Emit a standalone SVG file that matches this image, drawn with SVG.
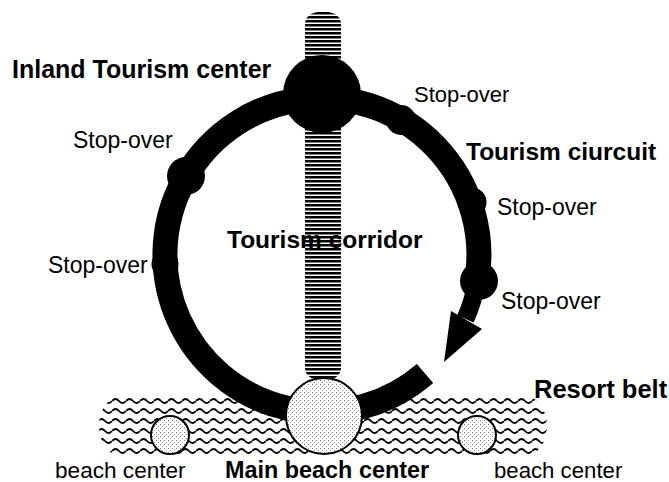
<svg xmlns="http://www.w3.org/2000/svg" width="669" height="482" viewBox="0 0 669 482">
<defs>
<pattern id="waves" patternUnits="userSpaceOnUse" x="0" y="396" width="14" height="10">
<path d="M0,5 Q3.5,1 7,5 T14,5" fill="none" stroke="#000" stroke-width="1.8"/>
</pattern>
<pattern id="stripes" patternUnits="userSpaceOnUse" x="0" y="12" width="10" height="4">
<rect x="0" y="0" width="10" height="2.5" fill="#000"/>
</pattern>
<pattern id="stipple" patternUnits="userSpaceOnUse" width="4" height="4">
<rect width="4" height="4" fill="#fff"/>
<rect x="0" y="0" width="1" height="1" fill="#777"/>
<rect x="2" y="2" width="1" height="1" fill="#999"/>
</pattern>
<style>
.lbl{font-family:"Liberation Sans",Arial,sans-serif;fill:#000}
.b{font-weight:bold}
.ring{fill:none;stroke:#000;stroke-linecap:butt}
.stop{fill:#000}
.beach{fill:url(#stipple);stroke:#000;stroke-width:2}
</style>
</defs>
<rect width="669" height="482" fill="#fff"/>

<g id="resort-belt">
<rect x="99" y="396" width="448" height="60" rx="22" ry="30" fill="url(#waves)"/>
<text class="lbl b" x="534" y="398" font-size="25.5">Resort belt</text>
</g>

<g id="tourism-corridor">
<text class="lbl b" x="227" y="248" font-size="24.5">Tourism corridor</text>
<rect x="305" y="12" width="36" height="368" rx="14" ry="12" fill="url(#stripes)"/>
</g>

<g id="connectors">
<path class="ring" stroke-width="25" d="M425,373.5 A157,157 0 1 1 476.8,280.9"/>
<path class="ring" stroke-width="18" d="M476.8,280.9 A157,157 0 0 1 465.4,318.9"/>
<polygon points="451,311 482,329 444,362" fill="#000"/>
<text class="lbl b" x="466" y="160" font-size="24.5">Tourism ciurcuit</text>
</g>

<g id="inland-tourism-center">
<circle cx="322" cy="94" r="39" fill="#000"/>
<text class="lbl b" x="12" y="78" font-size="25">Inland Tourism center</text>
</g>

<g id="stopover-1">
<circle class="stop" cx="186" cy="176" r="19"/>
<text class="lbl" x="73" y="148" font-size="23">Stop-over</text>
</g>
<g id="stopover-2">
<circle class="stop" cx="401" cy="120" r="15"/>
<text class="lbl" x="414" y="102" font-size="22">Stop-over</text>
</g>
<g id="stopover-3">
<circle class="stop" cx="472" cy="202" r="14.5"/>
<text class="lbl" x="497" y="215" font-size="23">Stop-over</text>
</g>
<g id="stopover-4">
<circle class="stop" cx="479" cy="281" r="19"/>
<text class="lbl" x="501" y="309" font-size="23">Stop-over</text>
</g>
<g id="stopover-5">
<circle class="stop" cx="165" cy="264" r="13.5"/>
<text class="lbl" x="48" y="273" font-size="23">Stop-over</text>
</g>

<g id="main-beach-center">
<circle class="beach" cx="324" cy="416" r="38"/>
<text class="lbl b" x="225" y="478" font-size="23.4">Main beach center</text>
</g>
<g id="beach-center-left">
<circle class="beach" cx="170" cy="435" r="19"/>
<text class="lbl" x="55" y="478" font-size="22.6">beach center</text>
</g>
<g id="beach-center-right">
<circle class="beach" cx="477" cy="435" r="19"/>
<text class="lbl" x="494" y="478" font-size="22.2">beach center</text>
</g>
</svg>
